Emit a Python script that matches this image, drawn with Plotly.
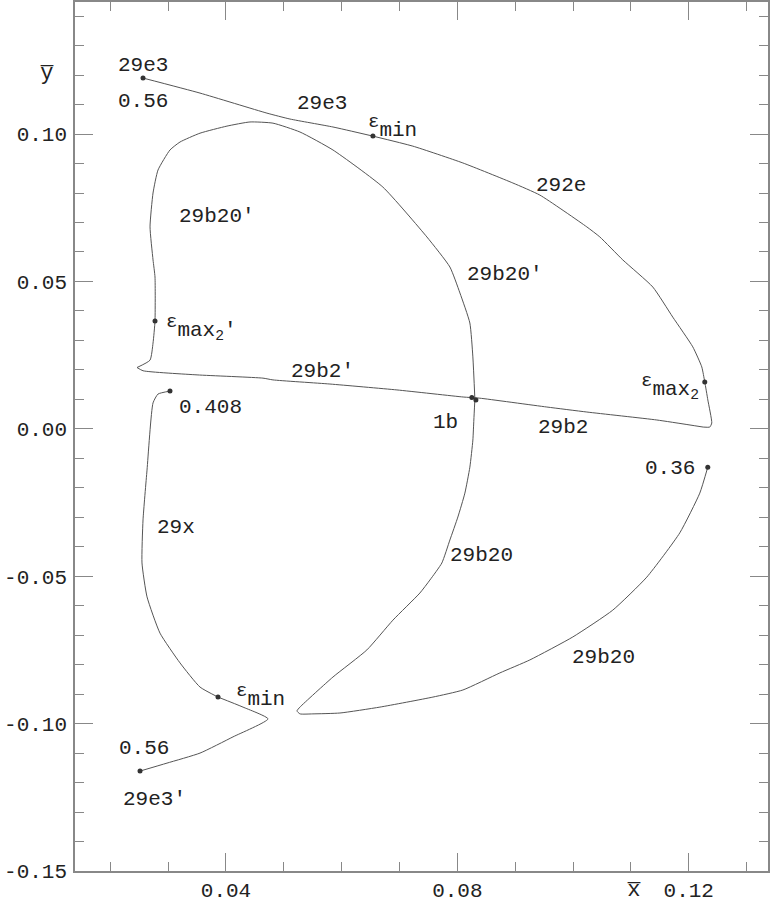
import plotly.graph_objects as go

# main curve, split by branch (shared end points)
b29e3_x = [0.02566, 0.03551, 0.04708, 0.05106, 0.05849, 0.06540]
b29e3_y = [0.1190, 0.1139, 0.1071, 0.1051, 0.1024, 0.0993]

b292e_x = [0.06540, 0.07231, 0.08095, 0.08959, 0.09426, 0.10238, 0.10463, 0.10860,
           0.11379, 0.11724, 0.12070, 0.12225, 0.12277, 0.12330, 0.12398, 0.12364, 0.12250]
b292e_y = [0.0993, 0.0959, 0.0902, 0.0834, 0.0793, 0.0685, 0.0651, 0.0573,
           0.0481, 0.0379, 0.0278, 0.0210, 0.0159, 0.0098, 0.0020, 0.0006, 0.0006]

b29b2_x = [0.12250, 0.11448, 0.10238, 0.09547, 0.08389, 0.08250]
b29b2_y = [0.0006, 0.0030, 0.0057, 0.0074, 0.0104, 0.0106]

b29b2p_x = [0.08250, 0.08100, 0.06955, 0.05797, 0.04812, 0.04639, 0.03500, 0.02566, 0.02462]
b29b2p_y = [0.0106, 0.0108, 0.0132, 0.0152, 0.0166, 0.0172, 0.0183, 0.0197, 0.0208]

b29b20p_x = [0.02462, 0.02687, 0.02739, 0.02773, 0.02773, 0.02739, 0.02687, 0.02739, 0.02825,
             0.03032, 0.03205, 0.03551, 0.04017, 0.04415, 0.04812, 0.05279, 0.05849, 0.06713,
             0.07473, 0.07871, 0.08044, 0.08216, 0.08268, 0.08303]
b29b20p_y = [0.0208, 0.0233, 0.0291, 0.0366, 0.0515, 0.0573, 0.0685, 0.0800, 0.0878,
             0.0946, 0.0973, 0.1003, 0.1027, 0.1041, 0.1037, 0.1007, 0.0946, 0.0820,
             0.0651, 0.0549, 0.0461, 0.0359, 0.0244, 0.0100]

b29b20_x = [0.08303, 0.08285, 0.08268, 0.08216, 0.08130, 0.08009, 0.07871, 0.07732, 0.07525,
            0.07352, 0.06886, 0.06436, 0.05849, 0.05279, 0.05227, 0.05279, 0.05503,
            0.05970, 0.06661, 0.07577, 0.08095, 0.08735, 0.09253, 0.09996, 0.10687, 0.11275,
            0.11845, 0.12191, 0.12329]
b29b20_y = [0.0100, 0.0030, -0.0038, -0.0130, -0.0218, -0.0299, -0.0377, -0.0455, -0.0513,
            -0.0557, -0.0649, -0.0750, -0.0842, -0.0944, -0.0957, -0.0967, -0.0967,
            -0.0964, -0.0944, -0.0910, -0.0886, -0.0828, -0.0784, -0.0706, -0.0615, -0.0503,
            -0.0353, -0.0218, -0.0130]

# second curve
b29x_x = [0.03032, 0.02825, 0.02739, 0.02635, 0.02566, 0.02548, 0.02635, 0.02859, 0.03205,
          0.03551, 0.03862]
b29x_y = [0.0128, 0.0118, 0.0088, -0.0140, -0.0309, -0.0455, -0.0570, -0.0693, -0.0794,
          -0.0876, -0.0910]

b29e3p_x = [0.03862, 0.04294, 0.04726, 0.04121, 0.03551, 0.02980, 0.02514]
b29e3p_y = [-0.0910, -0.0944, -0.0984, -0.1045, -0.1100, -0.1134, -0.1161]

# marked points
dot_x = [0.02566, 0.06540, 0.12277, 0.08250, 0.08320, 0.02773, 0.03032, 0.03862, 0.02514, 0.12329]
dot_y = [0.1190, 0.0993, 0.0159, 0.0106, 0.0098, 0.0366, 0.0128, -0.0910, -0.1161, -0.0130]

EPS = "<sup><span style='font-size:19px'>ε</span></sup>"

# labels
label_text = ["29e3", "0.56", "29e3", EPS + "min", "292e", "29b20'", "29b20'",
              EPS + "max<sub>2</sub>'", "29b2'", "0.408", "1b", "29b2",
              EPS + "max<sub>2</sub>", "0.36", "29x", "29b20", "29b20",
              EPS + "min", "0.56", "29e3'"]
label_x = [0.0257, 0.0257, 0.0566, 0.0687, 0.0979, 0.0384, 0.0882, 0.0357, 0.0566, 0.0374,
           0.0780, 0.0982, 0.1167, 0.1167, 0.0314, 0.0842, 0.1053, 0.0460, 0.0258, 0.0277]
label_y = [0.1234, 0.1109, 0.1105, 0.1024, 0.0827, 0.0722, 0.0522, 0.0345, 0.0193, 0.0071,
           0.0023, 0.0006, 0.0145, -0.0136, -0.0336, -0.0428, -0.0777, -0.0903, -0.1086, -0.1256]

x_ticks = [0.04, 0.08, 0.12]
x_ticktext = ["0.04", "0.08", "0.12"]
y_ticks = [0.10, 0.05, 0.00, -0.05, -0.10, -0.15]
y_ticktext = ["0.10", "0.05", "0.00", "-0.05", "-0.10", "-0.15"]

FONT = "Liberation Mono"
LINE = "#555555"
AXIS = "#888888"
TXT = "#222222"

fig = go.Figure()

branches = [(b29e3_x, b29e3_y), (b292e_x, b292e_y), (b29b2_x, b29b2_y), (b29b2p_x, b29b2p_y),
            (b29b20p_x, b29b20p_y), (b29b20_x, b29b20_y), (b29x_x, b29x_y), (b29e3p_x, b29e3p_y)]
for bx, by in branches:
    fig.add_trace(go.Scatter(x=bx, y=by, mode="lines",
                             line=dict(color=LINE, width=1, shape="spline", smoothing=0.5),
                             showlegend=False, hoverinfo="skip"))

fig.add_trace(go.Scatter(x=dot_x, y=dot_y, mode="markers",
                         marker=dict(color="#333333", size=5), showlegend=False))

for t, lx, ly in zip(label_text, label_x, label_y):
    fig.add_annotation(x=lx, y=ly, text=t, showarrow=False, xref="x", yref="y",
                       font=dict(family=FONT, size=21, color=TXT))

# axis names
fig.add_annotation(x=-0.053, y=0.1205, xref="paper", yref="y", text="y\u0305", showarrow=False,
                   font=dict(family=FONT, size=22, color=TXT))
fig.add_annotation(x=0.1105, y=-0.039, xref="x", yref="paper", text="x\u0305", showarrow=False,
                   font=dict(family=FONT, size=22, color=TXT))

axis_common = dict(showgrid=False, zeroline=False, showline=True, linecolor=AXIS, linewidth=1.5,
                   mirror="allticks", ticks="inside", ticklen=18, tickcolor=AXIS, tickwidth=1.2,
                   automargin=False, tickfont=dict(family=FONT, size=21, color=TXT))

fig.update_xaxes(range=[0.0139, 0.1337], tickvals=x_ticks, ticktext=x_ticktext, ticklabelstandoff=-1,
                 minor=dict(dtick=0.01, tick0=0, ticks="inside", ticklen=9, tickcolor=AXIS, tickwidth=1.2),
                 **axis_common)
fig.update_yaxes(range=[-0.15, 0.1448], tickvals=y_ticks, ticktext=y_ticktext, ticklabelstandoff=2,
                 minor=dict(dtick=0.01, tick0=0, ticks="inside", ticklen=9, tickcolor=AXIS, tickwidth=1.2),
                 **axis_common)

fig.update_layout(width=772, height=902, margin=dict(l=75, r=4, t=2, b=31),
                  plot_bgcolor="white", paper_bgcolor="white")

# page body has a default margin; drop it so the figure fills the window
fig.write_html("out.html", config={"displayModeBar": False},
               post_script="document.body.style.margin='0';")
